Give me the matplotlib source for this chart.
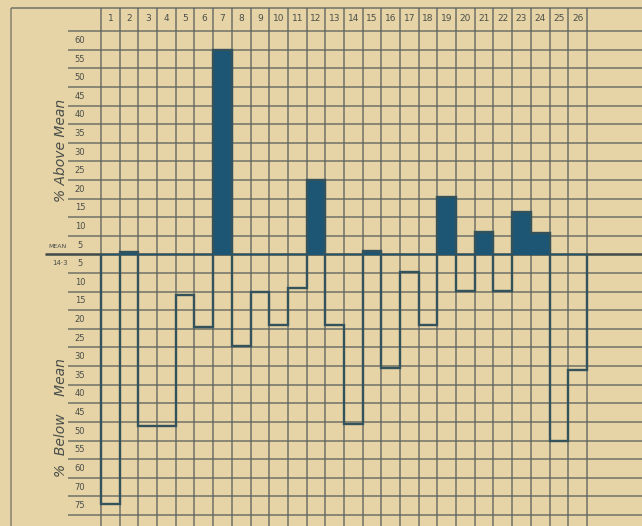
import numpy as np
import matplotlib
matplotlib.use("Agg")
import matplotlib.pyplot as plt

# ---- data (percent above (+) / below (-) the mean, per case) ----
cases = list(range(1, 27))
values = [-67, 0.7, -46, -46, -11, -19.5, 55, -24.5, -10, -19, -9, 20, -19,
          -45.6, 1.0, -30.6, -4.6, -19, 15.5, -9.7, 6.1, -9.7, 11.5, 5.7, -50, -31]
above_labels = ["60", "55", "50", "45", "40", "35", "30", "25", "20", "15", "10", "5"]
above_label_vals = [60, 55, 50, 45, 40, 35, 30, 25, 20, 15, 10, 5]
below_labels = ["5", "10", "15", "20", "25", "30", "35", "40", "45", "50", "55", "60", "70", "75"]
below_label_rows = [5, 10, 15, 20, 25, 30, 35, 40, 45, 50, 55, 60, 65, 70]

# ---- style ----
paper = "#E6D3A6"
ink = "#5c625c"
bar_col = "#1c5674"
step_col = "#34525c"

W, H = 642, 526
fig = plt.figure(figsize=(W / 100, H / 100), dpi=100, facecolor=paper)
ax = fig.add_axes([0, 0, 1, 1])
ax.set_facecolor(paper)
ax.axis("off")

px_col = 18.69
px_pct = 3.72
x0_px = 101
mean_px = 254.5
xl = 0.5 - x0_px / px_col
xr = 0.5 + (W - x0_px) / px_col
yt = mean_px / px_pct
yb = -(H - mean_px) / px_pct
ax.set_xlim(xl, xr)
ax.set_ylim(yb, yt)

def xpx(p):
    return 0.5 + (p - x0_px) / px_col

def ypx(p):
    return (mean_px - p) / px_pct

edges = np.arange(0.5, len(cases) + 1.5, 1.0)
head_top = ypx(8)
border_x = xpx(11)

# grid: vertical lines at column edges
ax.vlines(edges, yb, head_top, color=ink, lw=1.1, alpha=0.85, zorder=1)
# horizontal lines every 5 %
hy = np.arange(-70, 61, 5)
hy = hy[hy != 0]
ax.hlines(hy, xpx(68), xr, color=ink, lw=1.1, alpha=0.85, zorder=1)
# mean line
ax.hlines(0, xpx(45), xr, color="#3f4a48", lw=1.8, zorder=3)
# header box top line and paper border
ax.hlines(head_top, border_x, xr, color=ink, lw=1.1, alpha=0.85, zorder=1)
ax.vlines(border_x, yb, head_top, color=ink, lw=1.1, alpha=0.7, zorder=1)

# header numbers
head_y = (head_top + 60) / 2 + 0.3
for c in cases:
    ax.text(c, head_y, str(c), ha="center", va="center", fontsize=6.5,
            color="#4a4f4a", zorder=4)

# filled bars above mean
pos = [v if v > 0 else 0 for v in values]
ax.bar(cases, pos, width=1.0, bottom=0, color=bar_col, edgecolor=bar_col,
       lw=0.8, zorder=4)

# step outline of all values
ax.stairs(values, edges, baseline=0, color=step_col, lw=1.7, zorder=5)

# y labels
lx = xpx(80)
for lab, v in zip(above_labels, above_label_vals):
    ax.text(lx, v - 2.5, lab, ha="center", va="center", fontsize=6,
            color="#4a4f4a")
ax.text(xpx(57), 2.2, "MEAN", ha="center", va="center", fontsize=4.5,
        color="#4a4f4a")
for lab, r in zip(below_labels, below_label_rows):
    ax.text(lx, -(r - 2.5), lab, ha="center", va="center", fontsize=6,
            color="#4a4f4a")
ax.text(xpx(60), -2.4, "14·3", ha="center", va="center", fontsize=5,
        color="#4a4f4a")

# axis titles
ax.text(xpx(61), ypx(150), "% Above Mean", rotation=90, ha="center",
        va="center", fontsize=10, style="italic", color="#4a4f4a")
ax.text(xpx(61), ypx(418), "%  Below    Mean", rotation=90, ha="center",
        va="center", fontsize=10, style="italic", color="#4a4f4a")

fig.savefig("out.png", dpi=100, facecolor=paper)
